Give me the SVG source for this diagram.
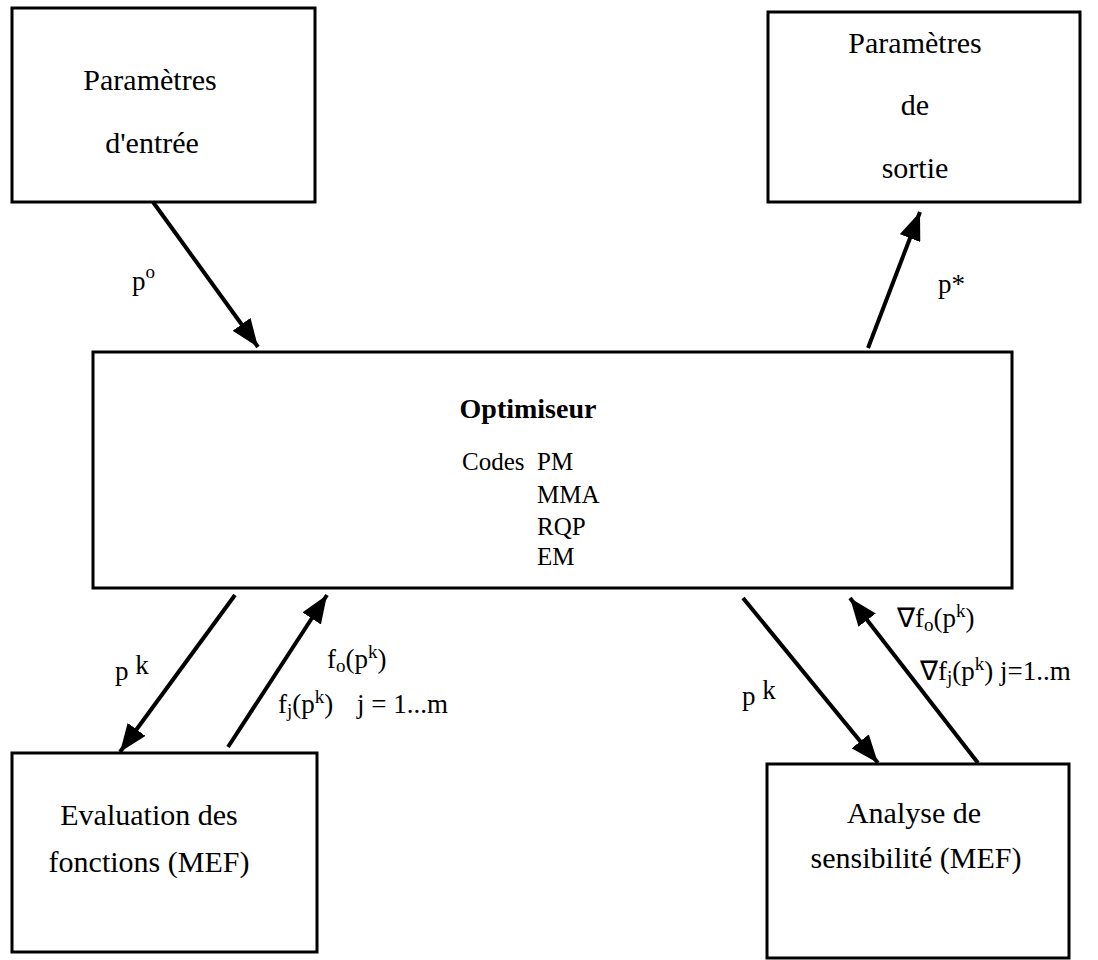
<svg xmlns="http://www.w3.org/2000/svg" width="1098" height="960" viewBox="0 0 1098 960">
<style>
.box{fill:#fff;stroke:#000;stroke-width:3}
.t{font-family:"Liberation Serif","Times New Roman",serif;font-size:30px;fill:#000;text-anchor:middle}
.l{font-family:"Liberation Serif","Times New Roman",serif;font-size:27px;fill:#000}
.c{font-family:"Liberation Serif","Times New Roman",serif;font-size:25px;fill:#000}
.b{font-weight:bold;font-size:28px}
.sm{font-size:19px}
.conn{stroke:#000;stroke-width:4;fill:none;marker-end:url(#ah)}
</style>
<defs>
<marker id="ah" markerUnits="userSpaceOnUse" markerWidth="30" markerHeight="22" refX="28" refY="11" orient="auto">
<path d="M0,0 L28,11 L0,22 z" fill="#000"/>
</marker>
</defs>
<rect width="1098" height="960" fill="#fff"/>
<g id="entree">
<rect class="box" x="12" y="8" width="303" height="194"/>
<text class="t" x="150" y="90">Paramètres</text>
<text class="t" x="152" y="153">d'entrée</text>
</g>
<g id="sortie">
<rect class="box" x="768" y="12" width="312" height="190"/>
<text class="t" x="915" y="53">Paramètres</text>
<text class="t" x="915" y="115">de</text>
<text class="t" x="915" y="178">sortie</text>
</g>
<g id="optimiseur">
<rect class="box" x="93" y="352" width="919" height="236"/>
<text class="t b" x="528" y="418">Optimiseur</text>
<text class="c" x="462" y="470">Codes</text>
<text class="c" x="537" y="470">PM</text>
<text class="c" x="537" y="503">MMA</text>
<text class="c" x="537" y="535">RQP</text>
<text class="c" x="537" y="565">EM</text>
</g>
<g id="evaluation">
<rect class="box" x="12" y="753" width="305" height="199"/>
<text class="t" x="149" y="825">Evaluation des</text>
<text class="t" x="149" y="872">fonctions (MEF)</text>
</g>
<g id="analyse">
<rect class="box" x="767" y="764" width="302" height="194"/>
<text class="t" x="914" y="823">Analyse de</text>
<text class="t" x="916" y="868">sensibilité (MEF)</text>
</g>
<g id="connectors">
<line class="conn" x1="153" y1="202" x2="258" y2="347"/>
<line class="conn" x1="868" y1="348" x2="920" y2="212"/>
<line class="conn" x1="235" y1="595" x2="120" y2="752"/>
<line class="conn" x1="228" y1="747" x2="327" y2="595"/>
<line class="conn" x1="743" y1="598" x2="878" y2="763"/>
<line class="conn" x1="978" y1="763" x2="850" y2="598"/>
</g>
<g id="labels">
<text class="l" x="132" y="290">p<tspan class="sm" dy="-12">o</tspan></text>
<text class="l" x="938" y="293">p*</text>
<text class="l" x="115" y="680">p <tspan dy="-6">k</tspan></text>
<text class="l" x="327" y="668">f<tspan class="sm" dy="4">o</tspan><tspan dy="-4">(p</tspan><tspan class="sm" dy="-10">k</tspan><tspan dy="10">)</tspan></text>
<text class="l" x="278" y="713">f<tspan class="sm" dy="4">j</tspan><tspan dy="-4">(p</tspan><tspan class="sm" dy="-10">k</tspan><tspan dy="10">)</tspan></text>
<text class="l" x="357" y="713">j = 1...m</text>
<text class="l" x="742" y="705">p <tspan dy="-6">k</tspan></text>
<text class="l" x="897" y="627">∇f<tspan class="sm" dy="4">o</tspan><tspan dy="-4">(p</tspan><tspan class="sm" dy="-10">k</tspan><tspan dy="10">)</tspan></text>
<text class="l" x="920" y="680">∇f<tspan class="sm" dy="4">j</tspan><tspan dy="-4">(p</tspan><tspan class="sm" dy="-10">k</tspan><tspan dy="10">) j=1..m</tspan></text>
</g>
</svg>
